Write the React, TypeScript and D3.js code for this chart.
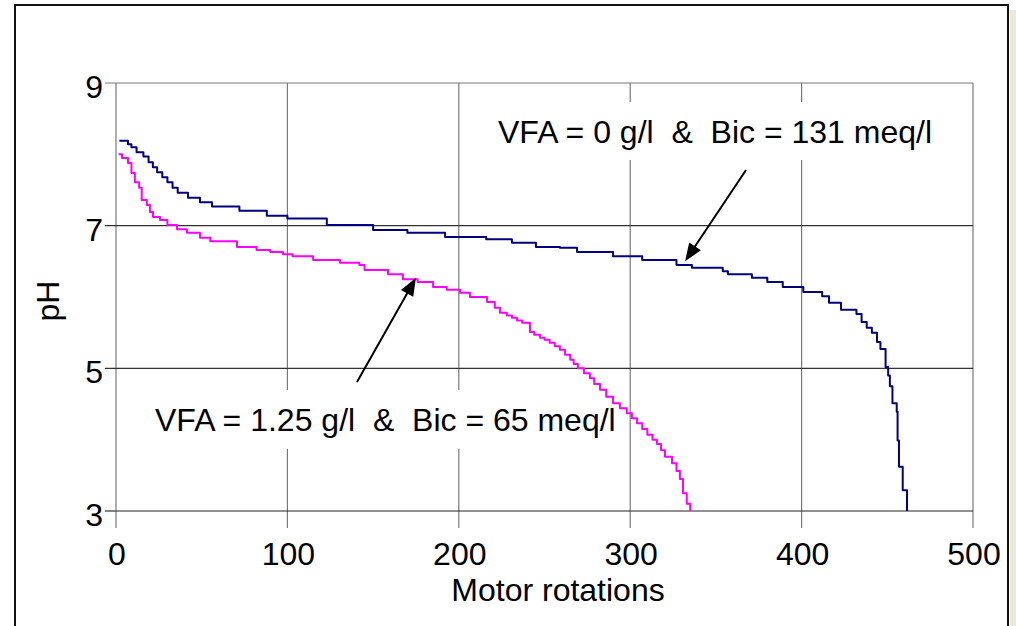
import React from "react";
import * as d3 from "d3";

// ---- Data ----
const xTicks = [0, 100, 200, 300, 400, 500];
const yTicks = [3, 5, 7, 9];

// VFA = 0 g/l & Bic = 131 meq/l  (step levels: motor rotations, pH)
const navyRot = [
  2, 7, 9, 12, 16, 19, 21.5, 24, 27, 30, 33, 36, 42, 49, 56, 72, 88, 100, 123,
  150, 170, 192, 216, 231, 245, 259, 269, 290, 307, 327, 336, 354, 357, 371,
  380, 389, 401, 412, 416, 423, 432, 435, 438, 441, 444, 446, 449, 450.5,
  451.5, 453, 455.5, 456, 456.8, 459, 461.5,
];
const navyPH = [
  8.19, 8.14, 8.1, 8.03, 7.97, 7.89, 7.82, 7.75, 7.68, 7.61, 7.53, 7.46, 7.39,
  7.33, 7.27, 7.21, 7.14, 7.1, 7.01, 6.94, 6.9, 6.84, 6.81, 6.76, 6.7, 6.69,
  6.63, 6.57, 6.52, 6.45, 6.41, 6.36, 6.32, 6.27, 6.21, 6.14, 6.07, 6.01, 5.92,
  5.82, 5.76, 5.65, 5.57, 5.5, 5.37, 5.27, 5.02, 4.9, 4.75, 4.51, 4.39, 3.99,
  3.62, 3.29, 3.0,
];

// VFA = 1.25 g/l & Bic = 65 meq/l
const magRot = [
  1.5, 3.5, 7, 9, 11, 13.5, 15, 18, 19.8, 21.6, 25.7, 30, 35.6, 41.4, 49, 55,
  70.6, 82, 90, 97.4, 103, 115, 130.7, 142, 145, 158.7, 167.4, 176, 185, 193,
  200.7, 206.5, 216.5, 221, 224, 228, 231, 234, 237, 241.5, 244, 247.4, 250,
  253, 256, 259, 262, 265, 267, 269.5, 273, 276.5, 279, 282.4, 286, 290, 294,
  298, 301, 304, 307, 310, 313, 315.6, 318, 320.3, 324.4, 327, 329, 330.8,
  333, 335,
];
const magPH = [
  8.0, 7.95, 7.88, 7.74, 7.61, 7.53, 7.36, 7.29, 7.19, 7.12, 7.08, 7.01, 6.95,
  6.9, 6.83, 6.78, 6.7, 6.66, 6.63, 6.6, 6.57, 6.52, 6.48, 6.45, 6.38, 6.32,
  6.25, 6.21, 6.14, 6.1, 6.06, 6.0, 5.93, 5.85, 5.78, 5.74, 5.71, 5.67, 5.64,
  5.51, 5.47, 5.43, 5.4, 5.36, 5.31, 5.26, 5.19, 5.12, 5.06, 5.0, 4.93, 4.86,
  4.78, 4.7, 4.6, 4.51, 4.44, 4.37, 4.3, 4.23, 4.15, 4.07, 4.0, 3.94, 3.85,
  3.76, 3.67, 3.56, 3.45, 3.25, 3.1, 3.0,
];

const series = [
  { name: "VFA = 0 g/l & Bic = 131 meq/l", x: navyRot, y: navyPH, color: "#000080" },
  { name: "VFA = 1.25 g/l & Bic = 65 meq/l", x: magRot, y: magPH, color: "#FF00FF" },
];

const label1 = "VFA = 0 g/l\u00a0\u00a0&\u00a0\u00a0Bic = 131 meq/l";
const label2 = "VFA = 1.25 g/l\u00a0\u00a0&\u00a0\u00a0Bic = 65 meq/l";

export default function App() {
  const W = 1016;
  const H = 626;
  const left = 116,
    right = 973,
    top = 83,
    bottom = 511;
  const x = d3.scaleLinear().domain([0, 500]).range([left, right]);
  const y = d3.scaleLinear().domain([3, 9]).range([bottom, top]);
  const font = "'Liberation Sans', Arial, sans-serif";
  const fs = 32;

  const line = d3
    .line<[number, number]>()
    .x((d) => x(d[0]))
    .y((d) => y(d[1]))
    .curve(d3.curveStepAfter);

  const arrowHead = (x1: number, y1: number, x2: number, y2: number) => {
    const L = 18,
      Wd = 7;
    const ang = Math.atan2(y2 - y1, x2 - x1);
    const bx = x2 - L * Math.cos(ang);
    const by = y2 - L * Math.sin(ang);
    const px = -Math.sin(ang) * Wd;
    const py = Math.cos(ang) * Wd;
    return `M${x2},${y2}L${bx + px},${by + py}L${bx - px},${by - py}Z`;
  };

  const arrows = [
    { x1: 746, y1: 170, x2: x(332), y2: y(6.5) },
    { x1: 357, y1: 382, x2: x(175), y2: y(6.27) },
  ];

  return (
    <svg
      width={W}
      height={H}
      style={{ position: "absolute", left: 0, top: 0, background: "#fff" }}
      fontFamily={font}
    >
      {/* shadow + frame */}
      <rect x={1010} y={10} width={6} height={H} fill="#ECE9D8" />
      <rect x={15} y={5} width={993} height={H + 20} fill="#fff" stroke="#111" strokeWidth={2} />

      {/* vertical gridlines + ticks */}
      {xTicks.map((t) => (
        <line key={"vx" + t} x1={x(t)} x2={x(t)} y1={top} y2={528} stroke="#7a7a7a" strokeWidth={1.2} />
      ))}
      {/* horizontal gridlines + ticks */}
      {yTicks.map((t) => (
        <line
          key={"hy" + t}
          x1={105}
          x2={right}
          y1={y(t)}
          y2={y(t)}
          stroke={t === 9 ? "#7a7a7a" : t === 3 ? "#222" : "#333"}
          strokeWidth={1.2}
        />
      ))}
      <line x1={left} x2={105} y1={y(3)} y2={y(3)} stroke="#7a7a7a" strokeWidth={1.2} />

      {/* tick labels */}
      {yTicks.map((t) => (
        <text key={"ly" + t} x={103} y={y(t) + 15} fontSize={fs} textAnchor="end" fill="#000">
          {t}
        </text>
      ))}
      {xTicks.map((t) => (
        <text key={"lx" + t} x={x(t) + 1} y={565} fontSize={fs} textAnchor="middle" fill="#000">
          {t}
        </text>
      ))}

      {/* axis titles */}
      <text x={558} y={601} fontSize={fs} textAnchor="middle" fill="#000">
        Motor rotations
      </text>
      <text
        transform={`translate(59,301) rotate(-90)`}
        fontSize={fs}
        textAnchor="middle"
        fill="#000"
      >
        pH
      </text>

      {/* label backgrounds (behind curves) */}
      <rect x={490} y={102} width={455} height={58} fill="#fff" />
      <rect x={148} y={390} width={470} height={59} fill="#fff" />

      {/* curves */}
      {series.map((s) => (
        <path
          key={s.name}
          d={line(s.x.map((v, i) => [v, s.y[i]] as [number, number])) || ""}
          fill="none"
          stroke={s.color}
          strokeWidth={2}
          strokeLinejoin="round"
        />
      ))}

      {/* labels */}
      <text x={498} y={143} fontSize={fs} fill="#000">
        {label1}
      </text>
      <text x={155} y={431} fontSize={fs} fill="#000">
        {label2}
      </text>

      {/* arrows */}
      {arrows.map((a, i) => (
        <g key={"ar" + i}>
          <line
            x1={a.x1}
            y1={a.y1}
            x2={a.x2 - 10 * Math.cos(Math.atan2(a.y2 - a.y1, a.x2 - a.x1))}
            y2={a.y2 - 10 * Math.sin(Math.atan2(a.y2 - a.y1, a.x2 - a.x1))}
            stroke="#000"
            strokeWidth={2}
          />
          <path d={arrowHead(a.x1, a.y1, a.x2, a.y2)} fill="#000" />
        </g>
      ))}
    </svg>
  );
}
